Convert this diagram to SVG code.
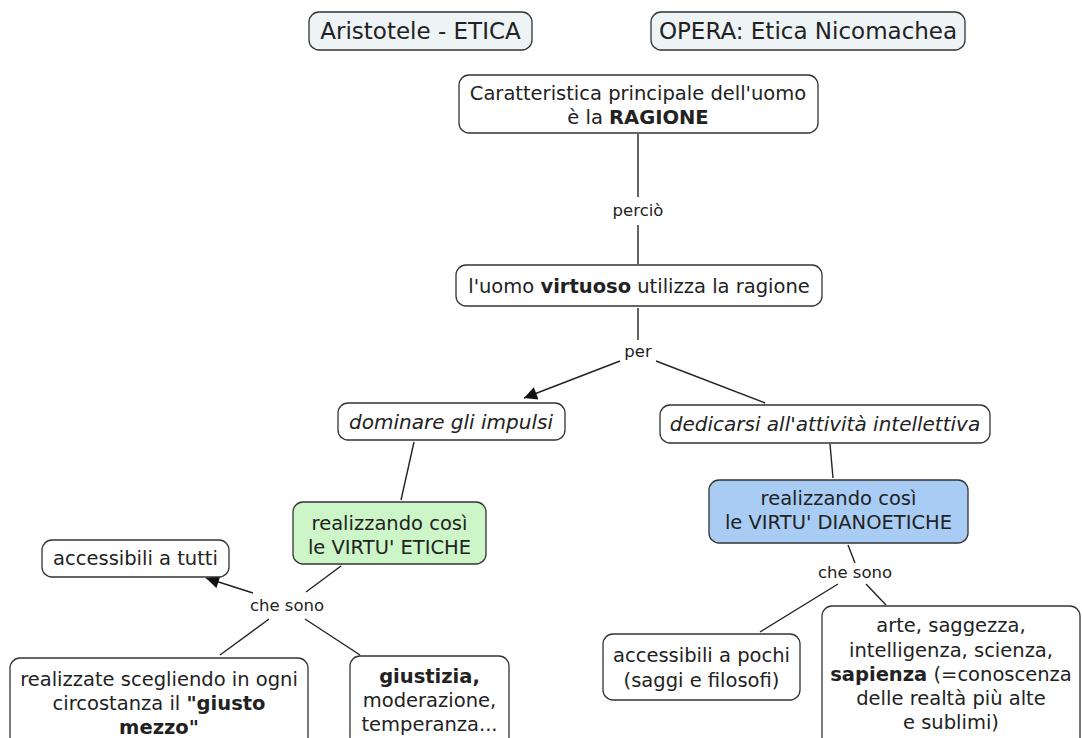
<svg xmlns="http://www.w3.org/2000/svg" width="1082" height="738" viewBox="0 0 1082 738">
<defs>
<style>
.n{fill:#fff;stroke:#333;stroke-width:1.3}
.t{fill:#eef3f6}
.g{fill:#ccf5c8}
.b{fill:#a8ccf4}
text{font-family:"DejaVu Sans",Verdana,sans-serif;font-size:19.5px;fill:#222;text-anchor:middle}
.h{font-size:23px}
.l{font-size:16.5px}
.i{font-style:italic;font-size:20px}
.c line{stroke:#222;stroke-width:1.4}
</style>
<marker id="ar" viewBox="0 0 10 10" refX="10" refY="5" markerWidth="14" markerHeight="13" markerUnits="userSpaceOnUse" orient="auto"><path d="M0,0L10,5L0,10z" fill="#111"/></marker>
</defs>
<rect width="1082" height="738" fill="#fff"/>
<g class="c">
<line x1="638" y1="134" x2="638" y2="197"/>
<line x1="638" y1="225" x2="638" y2="264"/>
<line x1="638" y1="308" x2="638" y2="340"/>
<line x1="620" y1="361" x2="524" y2="398" marker-end="url(#ar)"/>
<line x1="656" y1="361" x2="765" y2="403"/>
<line x1="414" y1="442" x2="401" y2="500"/>
<line x1="830" y1="444" x2="833" y2="478"/>
<line x1="341" y1="566" x2="306" y2="592"/>
<line x1="253" y1="593" x2="206" y2="578" marker-end="url(#ar)"/>
<line x1="269" y1="619" x2="220" y2="655"/>
<line x1="305" y1="619" x2="360" y2="655"/>
<line x1="848" y1="545" x2="855" y2="563"/>
<line x1="838" y1="584" x2="760" y2="632"/>
<line x1="866" y1="584" x2="886" y2="605"/>
</g>
<g id="n1"><rect class="n t" x="309" y="12" width="223" height="38" rx="10"/><text class="h" x="420.5" y="39">Aristotele - ETICA</text></g>
<g id="n2"><rect class="n t" x="651" y="12" width="314" height="38" rx="10"/><text class="h" x="808" y="39">OPERA: Etica Nicomachea</text></g>
<g id="n3"><rect class="n" x="459" y="75" width="359" height="58" rx="10"/><text x="638" y="100">Caratteristica principale dell'uomo</text><text x="638" y="124">è la <tspan font-weight="bold">RAGIONE</tspan></text></g>
<text class="l" x="638" y="216">perciò</text>
<g id="n4"><rect class="n" x="456" y="265" width="366" height="41" rx="10"/><text x="639" y="293">l'uomo <tspan font-weight="bold">virtuoso</tspan> utilizza la ragione</text></g>
<text class="l" x="638" y="357">per</text>
<g id="n5"><rect class="n" x="338" y="403" width="227" height="37" rx="10"/><text class="i" x="451" y="429">dominare gli impulsi</text></g>
<g id="n6"><rect class="n" x="660" y="405" width="330" height="38" rx="10"/><text class="i" x="825" y="431">dedicarsi all'attività intellettiva</text></g>
<g id="n7"><rect class="n g" x="293" y="502" width="193" height="62" rx="10"/><text x="389.5" y="530">realizzando così</text><text x="389.5" y="554">le VIRTU' ETICHE</text></g>
<g id="n8"><rect class="n b" x="709" y="480" width="259" height="63" rx="10"/><text x="838.5" y="505">realizzando così</text><text x="838.5" y="529">le VIRTU' DIANOETICHE</text></g>
<g id="n9"><rect class="n" x="42" y="540" width="187" height="37" rx="10"/><text x="135.5" y="565">accessibili a tutti</text></g>
<text class="l" x="287" y="611">che sono</text>
<g id="n10"><rect class="n" x="10" y="658" width="298" height="95" rx="10"/><text x="159" y="686">realizzate scegliendo in ogni</text><text x="159" y="710">circostanza il <tspan font-weight="bold">"giusto</tspan></text><text x="159" y="734" font-weight="bold">mezzo"</text></g>
<g id="n11"><rect class="n" x="350" y="656" width="159" height="95" rx="10"/><text x="429.5" y="683" font-weight="bold">giustizia,</text><text x="429.5" y="707">moderazione,</text><text x="429.5" y="731">temperanza...</text></g>
<text class="l" x="855" y="578">che sono</text>
<g id="n12"><rect class="n" x="603" y="634" width="197" height="66" rx="10"/><text x="701.5" y="662">accessibili a pochi</text><text x="701.5" y="687">(saggi e filosofi)</text></g>
<g id="n13"><rect class="n" x="822" y="606" width="258" height="145" rx="10"/><text x="951" y="632">arte, saggezza,</text><text x="951" y="657">intelligenza, scienza,</text><text x="951" y="681"><tspan font-weight="bold">sapienza</tspan> (=conoscenza</text><text x="951" y="705">delle realtà più alte</text><text x="951" y="729">e sublimi)</text></g>
</svg>
